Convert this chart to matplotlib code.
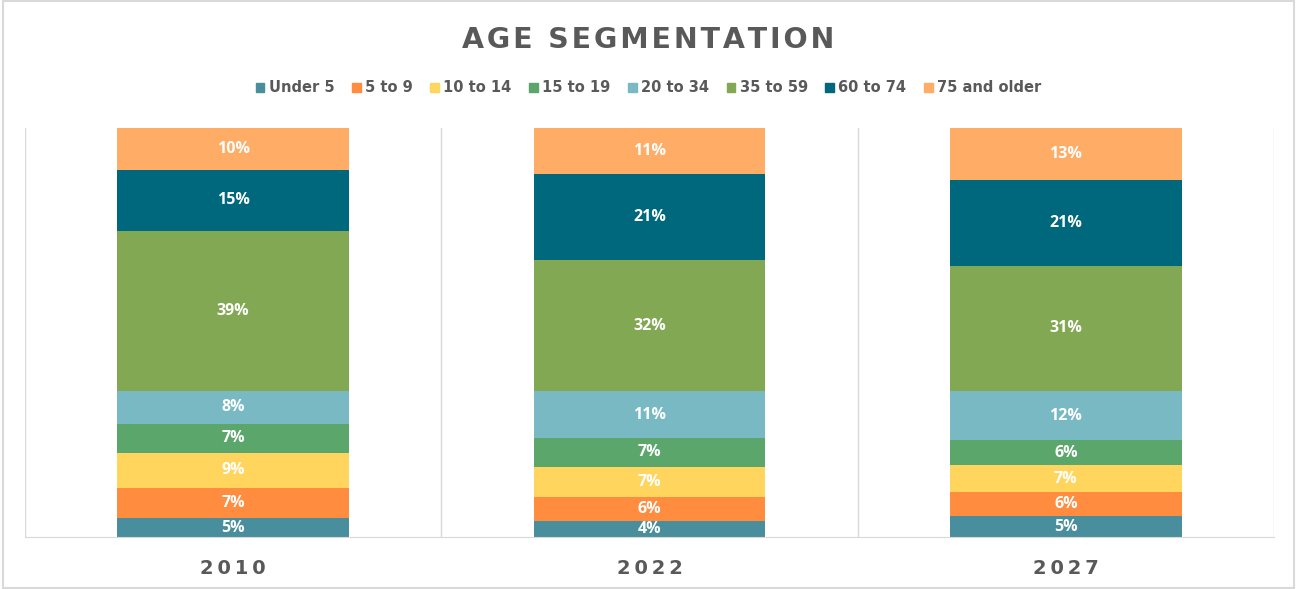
import numpy as np
import matplotlib.pyplot as plt
from matplotlib.patches import Patch, Rectangle

years = ["2010", "2022", "2027"]
groups = ["Under 5", "5 to 9", "10 to 14", "15 to 19", "20 to 34", "35 to 59", "60 to 74", "75 and older"]
colors = ["#488E9C", "#FF8C3F", "#FFD55E", "#5AA66B", "#78B9C3", "#82A853", "#00687C", "#FFAD66"]

# share of population per age group (percent), rows follow groups
under5 = [4.6, 3.9, 5.1]
age5_9 = [7.4, 5.9, 5.9]
age10_14 = [8.6, 7.4, 6.6]
age15_19 = [7.1, 7.1, 6.1]
age20_34 = [8.1, 11.3, 12.0]
age35_59 = [39.1, 32.2, 30.6]
age60_74 = [14.9, 20.9, 20.9]
age75 = [10.2, 11.3, 12.8]

data = np.array([under5, age5_9, age10_14, age15_19, age20_34, age35_59, age60_74, age75])

fig = plt.figure(figsize=(12.97, 5.89), dpi=100)
ax = fig.add_axes([25 / 1297, 52 / 589, 1249 / 1297, 409 / 589])

x = np.arange(len(years))
bottom = np.zeros(len(years))
for i, g in enumerate(groups):
    ax.bar(x, data[i], 0.557, bottom=bottom, color=colors[i], label=g, zorder=2)
    for j in range(len(years)):
        ax.text(x[j], bottom[j] + data[i][j] / 2, f"{round(data[i][j])}%",
                ha="center", va="center", color="white", fontsize=11.5,
                fontweight="bold", family="Open Sans", zorder=3)
    bottom += data[i]

ax.set_xlim(-0.5, 2.5)
ax.set_ylim(0, bottom.max())
for b in [-0.5, 0.5, 1.5, 2.5]:
    ax.axvline(b, color="#D9D9D9", linewidth=1, zorder=1)
for s in ["top", "left", "right"]:
    ax.spines[s].set_visible(False)
ax.spines["bottom"].set_color("#D9D9D9")
ax.set_yticks([])
ax.set_xticks(x)
ax.set_xticklabels(["\u2009".join(y) for y in years], fontsize=14, fontweight="bold",
                   color="#595959", family="DejaVu Sans")
ax.tick_params(axis="x", length=0, pad=16)

fig.text(0.5, 1 - 40 / 589, "\u200a".join("AGE SEGMENTATION"),
         ha="center", va="center", fontsize=20.5, fontweight="bold", color="#595959",
         family="DejaVu Sans")

handles = [Patch(color=c) for c in colors]
fig.legend(handles, groups, loc="center", bbox_to_anchor=(0.5, 1 - 88 / 589), ncol=8,
           frameon=False, handlelength=0.6, handleheight=0.6, handletextpad=0.3,
           columnspacing=1.2, prop={"size": 10.5, "weight": "bold", "family": "DejaVu Sans"},
           labelcolor="#595959")

fig.patches.append(Rectangle((0.002, 0.002), 0.996, 0.996, transform=fig.transFigure,
                             fill=False, edgecolor="#D9D9D9", linewidth=1.5))

fig.savefig("out.png", dpi=100, facecolor="white")
